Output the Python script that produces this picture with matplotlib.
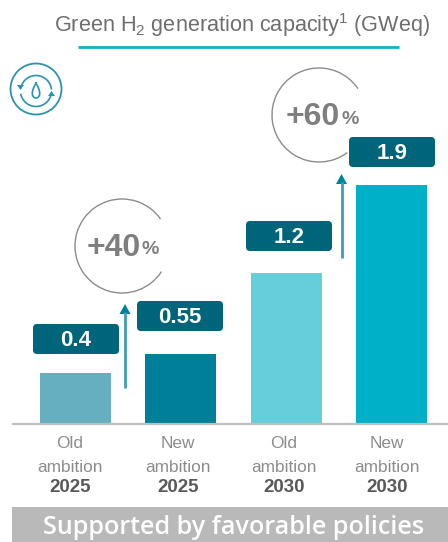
# Green H2 capacity bars, old vs new ambition
import numpy as np
import matplotlib
matplotlib.use("Agg")
import matplotlib.pyplot as plt
from matplotlib.patches import Arc, Circle, FancyBboxPatch, Polygon, Rectangle

plt.rcParams['font.family'] = ['Liberation Sans', 'DejaVu Sans']
plt.rcParams['mathtext.default'] = 'regular'

W, H = 448, 542

ambition = ["Old\nambition", "New\nambition", "Old\nambition", "New\nambition"]
years = ["2025", "2025", "2030", "2030"]
capacity = [0.4, 0.55, 1.2, 1.9]
capacity_labels = ["0.4", "0.55", "1.2", "1.9"]
bar_colors = ["#66AFC1", "#007F9B", "#66CEDB", "#00AFC8"]
growth = ["+40", "+60"]

TEAL_DARK = "#00657A"
GREY = "#7F7F7F"


# y is measured from the top of the picture, as in the reference
def py(y):
    return H - y


fig = plt.figure(figsize=(W / 100, H / 100), dpi=100)

# bar axes: baseline at pixel 423, spans the whole width from x=12
ax = fig.add_axes([12 / W, (H - 423) / H, (W - 12) / W, 423 / H])
ax.bar(range(4), capacity, width=0.674, color=bar_colors)
ax.set_xlim(-0.603, 3.536)
ax.set_ylim(0, 3.377)
ax.axis("off")

# overlay in pixels for the annotations
ov = fig.add_axes([0, 0, 1, 1])
ov.set_xlim(0, W)
ov.set_ylim(0, H)
ov.axis("off")
ov.patch.set_alpha(0)

# title
ov.text(242, py(25), "Green H$_2$ generation capacity$^1$ (GWeq)", ha="center", va="center",
        fontsize=15.6, color="#6E6E6E")
ov.plot([78, 399], [py(47), py(47)], color="#10B0C8", lw=2, solid_capstyle="butt")

# baseline
ov.plot([12, 448], [py(423.5), py(423.5)], color="#BFBFBF", lw=1.6, solid_capstyle="butt")

# category labels
label_x = [70, 178, 284, 387]
for x, amb, year in zip(label_x, ambition, years):
    first, second = amb.split("\n")
    ov.text(x, py(444), first, ha="center", va="center", fontsize=12.4, color="#8C8C8C")
    ov.text(x, py(467), second, ha="center", va="center", fontsize=12.4, color="#8C8C8C")
    ov.text(x, py(488), year, ha="center", va="center", fontsize=13.5, color="#595959", fontweight="bold")

# value boxes
box_pos = [(33, 324), (137, 301), (246, 221), (349, 137)]
for (x, y), lab in zip(box_pos, capacity_labels):
    ov.add_patch(FancyBboxPatch((x + 3, py(y + 30) + 3), 80, 24, boxstyle="round,pad=3,rounding_size=4",
                                fc=TEAL_DARK, ec="none", zorder=4))
    ov.text(x + 43, py(y + 16.5), lab, ha="center", va="center", fontsize=16, color="white",
            fontweight="bold", zorder=5)

# growth circles, open towards the right
circ = [(122, 246, 35, 327), (319, 115, 34, 307)]
for cx, cy, t1, t2 in circ:
    ov.add_patch(Arc((cx, py(cy)), 94, 94, theta1=t1, theta2=t2, color="#8C8C8C", lw=1, zorder=3))

growth_pos = [(141, 248), (340, 117)]
for (x, y), g in zip(growth_pos, growth):
    ov.text(x, py(y), g, ha="right", va="center", fontsize=23, color=GREY, fontweight="bold")
    ov.text(x + 1, py(y + 2), "%", ha="left", va="center", fontsize=14, color=GREY, fontweight="bold")

# up arrows
arrows = [(125, 388, 304), (341.5, 258, 174)]
for x, y0, y1 in arrows:
    ov.plot([x, x], [py(y0), py(y1 + 8)], color="#3C9DB5", lw=2, solid_capstyle="butt")
    ov.add_patch(Polygon([(x - 5.5, py(y1 + 10)), (x + 5.5, py(y1 + 10)), (x, py(y1))],
                         closed=True, fc="#00829C", ec="none"))

# recycle / water drop icon
ICON = "#2A93AE"
ix, iy = 36, 89
ov.add_patch(Circle((ix, py(iy)), 25.5, fc="none", ec=ICON, lw=1.3))
ov.add_patch(Arc((ix, py(iy + 2)), 31, 31, theta1=5, theta2=165, color=ICON, lw=1.2))
ov.add_patch(Arc((ix, py(iy + 2)), 31, 31, theta1=190, theta2=345, color=ICON, lw=1.2))
ov.add_patch(Polygon([(ix - 19, py(iy - 4)), (ix - 12, py(iy - 4)), (ix - 15.5, py(iy + 1))],
                     closed=True, fc=ICON, ec="none"))
ov.add_patch(Polygon([(ix + 19, py(iy + 7)), (ix + 12, py(iy + 7)), (ix + 15.5, py(iy + 2))],
                     closed=True, fc=ICON, ec="none"))
t = np.linspace(0, 2 * np.pi, 60)
ov.plot(ix + 5 * np.sin(t) * np.sin(t / 2) ** 1.2, py(iy + 1.5) + 7.5 * np.cos(t), color=ICON, lw=1.2)

# footer band
ov.add_patch(Rectangle((12, 0), W - 12, H - 507, fc="#B9B9B9", ec="none"))
ov.text(234, py(528), "Supported by favorable policies", ha="center", va="center", fontsize=18.1,
        color="white", fontweight="semibold", family=["Open Sans", "DejaVu Sans"])

fig.savefig("out.png", dpi=100)
